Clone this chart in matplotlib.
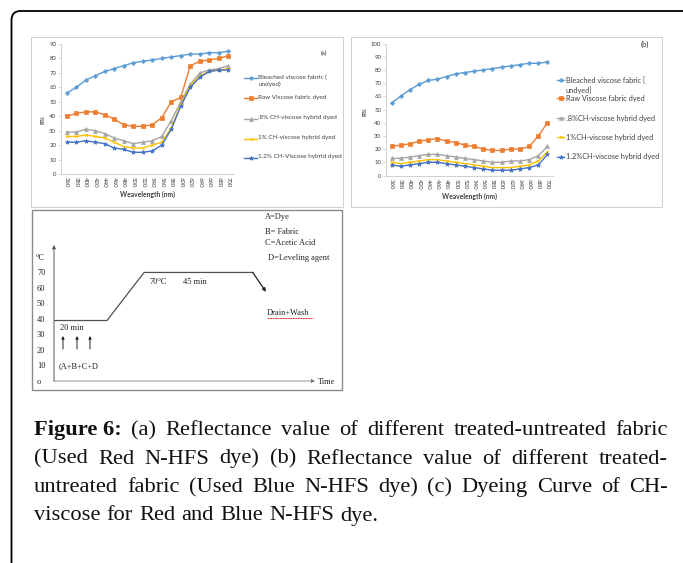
import matplotlib
matplotlib.use("Agg")
import matplotlib.pyplot as plt
from matplotlib.patches import FancyBboxPatch, Rectangle
from matplotlib.lines import Line2D

W, H = 683, 563

# ---------------- data ----------------
wavelengths = [360, 380, 400, 420, 440, 460, 480, 500, 520, 540,
               560, 580, 600, 620, 640, 660, 680, 700]

a_bleached = [56, 60, 65, 68, 71, 73, 75, 77, 78, 79, 80, 81, 82, 83, 83, 84, 84, 85]
a_raw = [40, 42, 43, 43, 41, 38, 34, 33, 33, 34, 39, 50, 53, 75, 78, 79, 80, 82]
a_p08 = [29, 29, 31, 30, 28, 25, 23, 21, 22, 23, 26, 37, 50, 62, 70, 72, 73, 75]
a_p10 = [26, 26, 27, 26, 25, 22, 19, 18, 18, 20, 22, 32, 48, 61, 68, 71, 72, 73]
a_p12 = [22, 22, 23, 22, 21, 18, 17, 15, 15, 16, 20, 31, 47, 60, 67, 71, 72, 72]

b_bleached = [55, 60, 65, 69, 72, 73, 75, 77, 78, 79, 80, 81, 82, 83, 84, 85, 85, 86]
b_raw = [22, 23, 24, 26, 27, 28, 26, 25, 23, 22, 20, 19, 19, 20, 20, 22, 30, 40]
b_p08 = [13, 13, 14, 15, 16, 16, 15, 14, 13, 12, 11, 10, 10, 11, 11, 12, 15, 22]
b_p10 = [10, 9, 10, 11, 12, 12, 11, 10, 9, 8, 7, 6, 6, 6, 7, 8, 11, 18]
b_p12 = [8, 7, 8, 9, 10, 10, 9, 8, 7, 6, 5, 4, 4, 4, 5, 6, 8, 16]

a_labels = ["Bleached viscose fabric (\nundyed)", "Raw Viscose fabric dyed",
            ".8% CH-viscose hybrid dyed", "1% CH-viscose hybrid dyed",
            "1.2% CH-Viscose hybrid dyed"]
b_labels = ["Bleached viscose fabric [\nundyed]", "Raw Viscose fabric dyed",
            ".8%CH-viscose hybrid dyed", "1%CH-viscose hybrid dyed",
            "1.2%CH-viscose hybrid dyed"]

# dyeing curve (time in min, temperature in deg C)
c_time = [0, 20, 34, 75, 80]
c_temp = [39, 39, 70, 70, 57.5]
c_yticks = [0, 10, 20, 30, 40, 50, 60, 70]
c_yticklabels = ["o", "10", "20", "30", "40", "50", "60", "70"]

caption_lines = [
    "(a) Reflectance value of different treated-untreated fabric",
    "(Used Red N-HFS dye) (b) Reflectance value of different treated-",
    "untreated fabric (Used Blue N-HFS dye) (c) Dyeing Curve of CH-",
    "viscose for Red and Blue N-HFS dye.",
]
caption_bold = "Figure 6:"

colors = ["#5B9BD5", "#ED7D31", "#A5A5A5", "#FFC000", "#4472C4"]
markers = ["P", "s", "^", "x", "*"]
msizes = [2.6, 2.6, 2.8, 2.0, 3.2]

# ---------------- figure ----------------
fig = plt.figure(figsize=(W / 100, H / 100), dpi=100)
ov = fig.add_axes([0, 0, 1, 1])
ov.set_xlim(0, W)
ov.set_ylim(H, 0)
ov.axis("off")
ov.set_zorder(0)


def ax_px(l, t, r, b):
    a = fig.add_axes([l / W, 1 - b / H, (r - l) / W, (b - t) / H])
    a.set_facecolor("none")
    a.set_zorder(2)
    return a


# outer rounded frame
ov.add_patch(FancyBboxPatch((11.5, 11), 680, 600,
                            boxstyle="round,pad=0,rounding_size=9",
                            fill=False, ec="black", lw=1.3, clip_on=False))
# panel boxes
ov.add_patch(Rectangle((31, 37), 312, 170, fill=False, ec="#D0D0D0", lw=0.7))
ov.add_patch(Rectangle((351, 37), 311, 170, fill=False, ec="#D0D0D0", lw=0.7))
ov.add_patch(Rectangle((32, 210), 310, 180, fill=False, ec="#8A8A8A", lw=1.0))

xfont = "Lato"


def excel_panel(box, ymax, series, labels, tag, tagpos, legx, legys, legfs,
                ylabpos, xlabpos, fs_tick):
    ax = ax_px(*box)
    x = list(range(len(wavelengths)))
    for vals, c, m, ms in zip(series, colors, markers, msizes):
        ax.plot(x, vals, color=c, lw=1.0, marker=m, ms=ms, mew=0.5,
                mec=c, mfc=c, solid_joinstyle="round")
    ax.set_xlim(-0.6, len(wavelengths) - 0.4)
    ax.set_ylim(0, ymax)
    ax.set_yticks(range(0, ymax + 1, 10))
    ax.set_xticks(x)
    ax.set_xticklabels([str(w) for w in wavelengths], rotation=-90,
                       fontfamily=xfont)
    for lab in ax.get_yticklabels():
        lab.set_fontfamily(xfont)
    for s in ["top", "right"]:
        ax.spines[s].set_visible(False)
    for s in ["left", "bottom"]:
        ax.spines[s].set_color("#D0D0D0")
        ax.spines[s].set_linewidth(0.7)
    ax.tick_params(axis="y", length=2, width=0.5, color="#D0D0D0",
                   labelsize=fs_tick, labelcolor="#404040", pad=1.5)
    ax.tick_params(axis="x", length=0, labelsize=fs_tick, labelcolor="#404040",
                   pad=2.5)
    ov.text(tagpos[0], tagpos[1], tag, fontsize=legfs, family=xfont,
            color="#303030", ha="center", va="center")
    ov.text(ylabpos[0], ylabpos[1], "R%", rotation=90, fontsize=fs_tick,
            family=xfont, fontweight="bold", color="#404040",
            ha="center", va="center")
    ov.text(xlabpos[0], xlabpos[1], "Weavelength (nm)", fontsize=fs_tick + 0.6,
            family=xfont, fontweight="bold", color="#404040",
            ha="center", va="center")
    # legend
    for lab, c, m, ms, yy in zip(labels, colors, markers, msizes, legys):
        ov.add_line(Line2D([legx[0], legx[1]], [yy, yy], color=c, lw=1.0))
        ov.add_line(Line2D([(legx[0] + legx[1]) / 2], [yy], color=c,
                           marker=m, ms=ms, mew=0.5, mec=c, mfc=c, lw=0))
        ov.text(legx[1] + 1.5, yy - 3.2, lab, fontsize=legfs, family=xfont,
                color="#404040", ha="left", va="top", linespacing=1.35)
    return ax


excel_panel((61, 44, 234, 174), 90,
            [a_bleached, a_raw, a_p08, a_p10, a_p12], a_labels,
            "(a)", (324, 53), (244, 257), [78, 98, 118.5, 138.5, 157.5], 4.6,
            (43, 120), (147, 194), 4.3)
excel_panel((386, 43.5, 553, 175.5), 100,
            [b_bleached, b_raw, b_p08, b_p10, b_p12], b_labels,
            "(b)", (645, 44), (557, 564), [80, 98.3, 118.3, 137.3, 156.7], 5.3,
            (365, 112), (469, 196), 4.3)

# ---------------- panel (c) dyeing curve ----------------
serif = "Liberation Serif"
axc = ax_px(54, 245, 315, 381)
axc.set_xlim(0, 98.5)
axc.set_ylim(0, 87.7)
for s in axc.spines.values():
    s.set_visible(False)
axc.set_xticks([])
axc.set_yticks(c_yticks)
axc.set_yticklabels(c_yticklabels, fontfamily=serif, ha="left")
axc.tick_params(axis="y", length=0, labelsize=6.0, pad=12.2, labelcolor="#222222")
axc.annotate("", xy=(0, 1), xytext=(0, 0), xycoords="axes fraction",
             arrowprops=dict(arrowstyle="-|>", color="#555555", lw=0.7,
                             mutation_scale=5, shrinkA=0, shrinkB=0))
axc.annotate("", xy=(1, 0), xytext=(0, 0), xycoords="axes fraction",
             arrowprops=dict(arrowstyle="-|>", color="#777777", lw=0.6,
                             mutation_scale=5, shrinkA=0, shrinkB=0,
                             linestyle=(0, (1.5, 0.8))))
axc.plot(c_time[:-1], c_temp[:-1], color="#505050", lw=0.9)
axc.annotate("", xy=(c_time[-1], c_temp[-1]), xytext=(c_time[-2], c_temp[-2]),
             arrowprops=dict(arrowstyle="-|>", color="#202020", lw=0.9,
                             mutation_scale=5, shrinkA=0, shrinkB=0))

cfs = 6.0
for txt, xx, yy in [("A=Dye", 265, 217), ("B= Fabric", 265, 232),
                    ("C=Acetic Acid", 265, 243), ("D=Leveling agent", 268, 258),
                    ("\u2070C", 36, 258), ("70\u2070C", 149, 282),
                    ("45 min", 183, 282), ("Drain+Wash", 267, 313),
                    ("20 min", 60, 328), ("(A+B+C+D", 59, 366),
                    ("Time", 318, 382)]:
    ov.text(xx, yy, txt, fontsize=cfs, family=[serif, "DejaVu Serif"],
            color="#222222", ha="left", va="center")
ov.add_line(Line2D([267, 313], [317.5, 317.5], color="#E03030", lw=0.7,
                   linestyle=(0, (2, 0.6))))
for xx in [63, 77, 90]:
    ov.annotate("", xy=(xx, 336), xytext=(xx, 349),
                arrowprops=dict(arrowstyle="-|>", color="#222222", lw=0.7,
                                mutation_scale=4, shrinkA=0, shrinkB=0))

# ---------------- caption (justified) ----------------
renderer = fig.canvas.get_renderer()


def text_w(s, fs, weight="normal"):
    t = ov.text(0, 0, s, fontsize=fs, family=serif, fontweight=weight)
    w = t.get_window_extent(renderer).width
    t.remove()
    return w


x0, x1 = 34, 668
# font size: first line (bold prefix + text) nearly fits the text width
line1_w10 = text_w(caption_bold + " ", 10, "bold") + text_w(caption_lines[0], 10)
fs_cap = 10 * (x1 - x0) / line1_w10 * 0.96
baselines = [435, 463.5, 492, 520.5]
space = text_w("a a", fs_cap) - text_w("aa", fs_cap)
for i, (line, yb) in enumerate(zip(caption_lines, baselines)):
    words = line.split(" ")
    items = [(w, "normal") for w in words]
    if i == 0:
        items = [(caption_bold, "bold")] + items
    widths = [text_w(w, fs_cap, wt) for w, wt in items]
    if i < len(caption_lines) - 1:
        gap = (x1 - x0 - sum(widths)) / (len(items) - 1)
    else:
        gap = space * 1.1
    xx = x0
    for (w, wt), wd in zip(items, widths):
        ov.text(xx, yb, w, fontsize=fs_cap, family=serif, fontweight=wt,
                color="#111111", ha="left", va="baseline")
        xx += wd + gap

fig.savefig("out.png", dpi=100)
